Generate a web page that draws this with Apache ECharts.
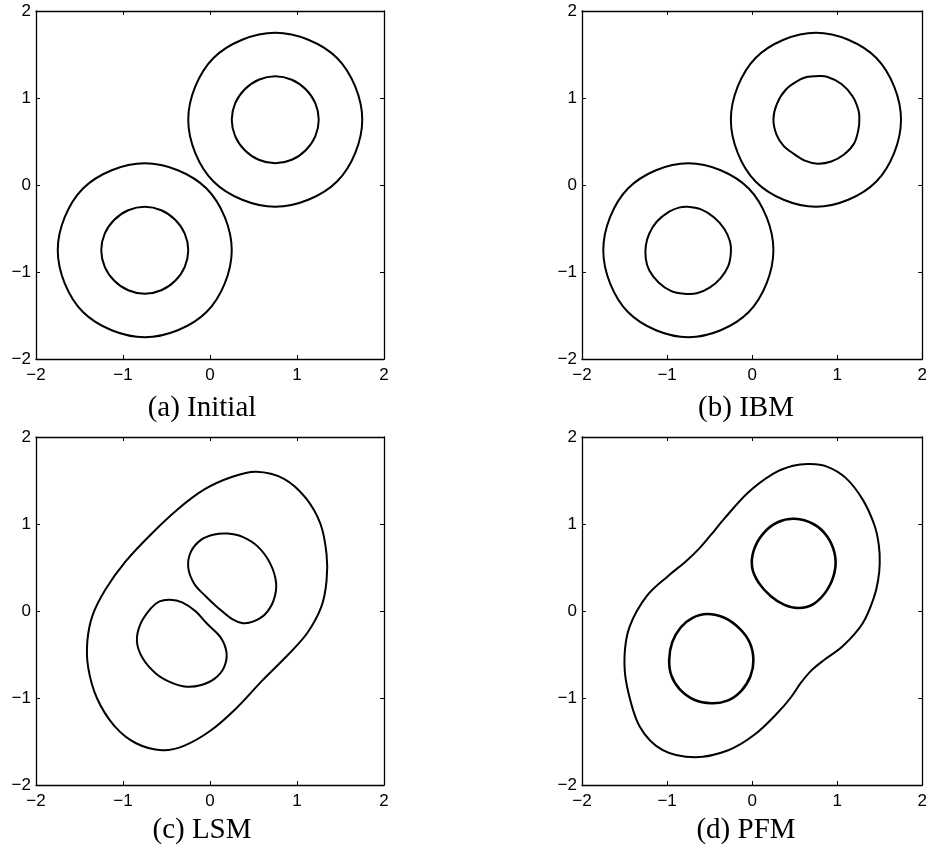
<!DOCTYPE html>
<html>
<head>
<meta charset="utf-8">
<script src="https://cdn.jsdelivr.net/npm/echarts@6/dist/echarts.min.js"></script>
<style>
  html, body { margin: 0; padding: 0; background: #fff; }
  #chart { width: 930px; height: 853px; }
</style>
</head>
<body>
<div id="chart"></div>
<script>
// Axis ticks shared by all four panels
const tickValues = [-2, -1, 0, 1, 2];
const panelTitles = ['(a) Initial', '(b) IBM', '(c) LSM', '(d) PFM'];

// (a) Initial: two rings of circles
const initOuterUR = [[1.75,0.75],[1.67,1.13],[1.46,1.46],[1.13,1.67],[0.75,1.75],[0.37,1.67],[0.04,1.46],[-0.17,1.13],[-0.25,0.75],[-0.17,0.37],[0.04,0.04],[0.37,-0.17],[0.75,-0.25],[1.13,-0.17],[1.46,0.04],[1.67,0.37]];
const initOuterLL = [[0.25,-0.75],[0.17,-0.37],[-0.04,-0.04],[-0.37,0.17],[-0.75,0.25],[-1.13,0.17],[-1.46,-0.04],[-1.67,-0.37],[-1.75,-0.75],[-1.67,-1.13],[-1.46,-1.46],[-1.13,-1.67],[-0.75,-1.75],[-0.37,-1.67],[-0.04,-1.46],[0.17,-1.13]];
const initInnerUR = [[1.25,0.75],[1.21,0.94],[1.10,1.10],[0.94,1.21],[0.75,1.25],[0.56,1.21],[0.40,1.10],[0.29,0.94],[0.25,0.75],[0.29,0.56],[0.40,0.40],[0.56,0.29],[0.75,0.25],[0.94,0.29],[1.10,0.40],[1.21,0.56]];
const initInnerLL = [[-0.25,-0.75],[-0.29,-0.56],[-0.40,-0.40],[-0.56,-0.29],[-0.75,-0.25],[-0.94,-0.29],[-1.10,-0.40],[-1.21,-0.56],[-1.25,-0.75],[-1.21,-0.94],[-1.10,-1.10],[-0.94,-1.21],[-0.75,-1.25],[-0.56,-1.21],[-0.40,-1.10],[-0.29,-0.94]];

// (b) IBM: outer rings unchanged, inner contours slightly faceted
const ibmInnerUR = [[0.75,1.25],[0.88,1.245],[1.05,1.16],[1.18,1.02],[1.25,0.86],[1.26,0.75],[1.25,0.64],[1.20,0.48],[1.08,0.35],[0.93,0.27],[0.77,0.245],[0.62,0.28],[0.48,0.365],[0.37,0.45],[0.29,0.57],[0.25,0.75],[0.29,0.93],[0.40,1.10],[0.56,1.21],[0.66,1.245]];
const ibmInnerLL = [[-0.76,-0.25],[-0.60,-0.28],[-0.45,-0.37],[-0.33,-0.50],[-0.26,-0.65],[-0.25,-0.78],[-0.28,-0.93],[-0.37,-1.07],[-0.50,-1.18],[-0.65,-1.245],[-0.80,-1.25],[-0.95,-1.22],[-1.10,-1.12],[-1.21,-0.98],[-1.25,-0.85],[-1.25,-0.70],[-1.21,-0.56],[-1.12,-0.42],[-0.98,-0.31],[-0.86,-0.26]];

// (c) LSM: merged outer contour and two egg-shaped holes
const lsmOuter = [[0.53,1.60],[0.85,1.52],[1.10,1.30],[1.27,1.00],[1.34,0.65],[1.34,0.35],[1.28,0.05],[1.12,-0.25],[0.90,-0.50],[0.60,-0.80],[0.30,-1.12],[0.00,-1.38],[-0.30,-1.55],[-0.55,-1.60],[-0.85,-1.52],[-1.10,-1.32],[-1.30,-1.00],[-1.40,-0.65],[-1.41,-0.35],[-1.35,-0.05],[-1.20,0.25],[-0.97,0.57],[-0.68,0.88],[-0.37,1.17],[-0.06,1.40],[0.25,1.54]];
const lsmInnerUR = [[0.20,0.89],[0.38,0.85],[0.55,0.74],[0.69,0.55],[0.76,0.32],[0.73,0.12],[0.63,-0.04],[0.50,-0.12],[0.38,-0.14],[0.25,-0.09],[0.10,0.03],[-0.05,0.17],[-0.18,0.31],[-0.25,0.50],[-0.22,0.68],[-0.10,0.82],[0.05,0.88]];
const lsmInnerLL = [[-0.46,0.13],[-0.32,0.10],[-0.17,0.00],[-0.03,-0.15],[0.12,-0.30],[0.19,-0.48],[0.16,-0.65],[0.05,-0.78],[-0.10,-0.85],[-0.27,-0.87],[-0.45,-0.82],[-0.62,-0.72],[-0.77,-0.55],[-0.84,-0.35],[-0.80,-0.15],[-0.68,0.03],[-0.58,0.11]];

// (d) PFM: peanut-shaped outer contour and two round holes
const pfmOuter = [[0.68,1.69],[0.88,1.66],[1.10,1.53],[1.30,1.28],[1.44,0.98],[1.49,0.75],[1.50,0.55],[1.48,0.35],[1.43,0.15],[1.30,-0.14],[1.07,-0.40],[0.85,-0.56],[0.70,-0.68],[0.57,-0.83],[0.45,-1.00],[0.30,-1.17],[0.03,-1.42],[-0.28,-1.60],[-0.67,-1.68],[-1.05,-1.60],[-1.32,-1.33],[-1.47,-0.87],[-1.50,-0.52],[-1.44,-0.18],[-1.24,0.17],[-0.99,0.40],[-0.78,0.57],[-0.62,0.72],[-0.48,0.88],[-0.32,1.07],[-0.05,1.36],[0.25,1.58],[0.48,1.67]];
const pfmInnerUR = [[0.50,1.06],[0.72,1.00],[0.88,0.86],[0.97,0.66],[0.97,0.45],[0.88,0.24],[0.72,0.08],[0.54,0.035],[0.38,0.07],[0.22,0.17],[0.08,0.32],[0.00,0.50],[0.02,0.70],[0.13,0.89],[0.30,1.02]];
const pfmInnerLL = [[-0.53,-0.035],[-0.32,-0.08],[-0.15,-0.20],[-0.03,-0.36],[0.015,-0.56],[-0.02,-0.75],[-0.13,-0.92],[-0.29,-1.03],[-0.48,-1.06],[-0.68,-1.02],[-0.85,-0.90],[-0.95,-0.74],[-0.975,-0.56],[-0.94,-0.36],[-0.84,-0.19],[-0.70,-0.08]];

const panelCurves = [
  [initOuterUR, initOuterLL, initInnerUR, initInnerLL],
  [initOuterUR, initOuterLL, ibmInnerUR, ibmInnerLL],
  [lsmOuter, lsmInnerUR, lsmInnerLL],
  [pfmOuter, pfmInnerUR, pfmInnerLL]
];
const panelLineWidth = [[2, 2, 2, 2], [2, 2, 2, 2], [2, 2, 2], [2, 2.6, 2.6]];

const grids = [
  { left: 36, top: 11, width: 348, height: 348 },
  { left: 582, top: 11, width: 347, height: 348 },
  { left: 36, top: 437, width: 348, height: 348 },
  { left: 582, top: 437, width: 347, height: 348 }
];
const captionPos = [[202, 408], [746, 408], [202, 830], [746, 830]];

const fmt = v => (v < 0 ? '\u2212' + (-v) : String(v));
const lineStyle = { color: '#000', width: 1.3 };
const labelStyle = { color: '#000', fontSize: 17, fontFamily: '"Liberation Sans", Arial, Helvetica, sans-serif' };

// Closed Catmull-Rom spline through the projected points, as SVG path data
function closedSplinePath(pix) {
  const n = pix.length;
  const at = i => pix[(i + n) % n];
  let d = 'M' + pix[0][0] + ',' + pix[0][1];
  for (let i = 0; i < n; i++) {
    const p0 = at(i - 1), p1 = at(i), p2 = at(i + 1), p3 = at(i + 2);
    const c1x = p1[0] + (p2[0] - p0[0]) / 6, c1y = p1[1] + (p2[1] - p0[1]) / 6;
    const c2x = p2[0] - (p3[0] - p1[0]) / 6, c2y = p2[1] - (p3[1] - p1[1]) / 6;
    d += 'C' + c1x + ',' + c1y + ',' + c2x + ',' + c2y + ',' + p2[0] + ',' + p2[1];
  }
  return d + 'Z';
}

const xAxes = [], yAxes = [], series = [];
grids.forEach((g, i) => {
  const base = { type: 'value', min: tickValues[0], max: tickValues[tickValues.length - 1], interval: 1, gridIndex: i,
    splitLine: { show: false }, axisLine: { show: true, onZero: false, lineStyle },
    axisTick: { show: true, inside: true, length: 4, lineStyle: { color: '#000', width: 1 } } };
  xAxes.push(Object.assign({}, base, { position: 'bottom', axisLabel: Object.assign({ formatter: fmt, margin: 8, showMinLabel: true, showMaxLabel: true }, labelStyle) }));
  xAxes.push(Object.assign({}, base, { position: 'top', axisLabel: { show: false } }));
  yAxes.push(Object.assign({}, base, { position: 'left', axisLabel: Object.assign({ formatter: fmt, margin: 5, showMinLabel: true, showMaxLabel: true }, labelStyle) }));
  yAxes.push(Object.assign({}, base, { position: 'right', axisLabel: { show: false } }));

  panelCurves[i].forEach((pts, k) => {
    const w = panelLineWidth[i][k];
    series.push({
      type: 'custom',
      xAxisIndex: 2 * i, yAxisIndex: 2 * i,
      data: pts,
      silent: true,
      animation: false,
      renderItem: (params, api) => {
        if (params.dataIndex !== 0) return null;
        const pix = pts.map(p => api.coord(p));
        return {
          type: 'path',
          shape: { pathData: closedSplinePath(pix) },
          style: { fill: null, stroke: '#000', lineWidth: w }
        };
      }
    });
  });
});

const chart = echarts.init(document.getElementById('chart'), null, { renderer: 'canvas' });
chart.setOption({
  backgroundColor: '#fff',
  animation: false,
  grid: grids.map(g => Object.assign({ containLabel: false }, g)),
  xAxis: xAxes,
  yAxis: yAxes,
  series,
  graphic: panelTitles.map((t, i) => ({
    type: 'text',
    x: captionPos[i][0], y: captionPos[i][1],
    style: { text: t, fill: '#000', font: '29px "Liberation Serif", "Times New Roman", serif', textAlign: 'center', textVerticalAlign: 'middle' }
  }))
});
</script>
</body>
</html>
